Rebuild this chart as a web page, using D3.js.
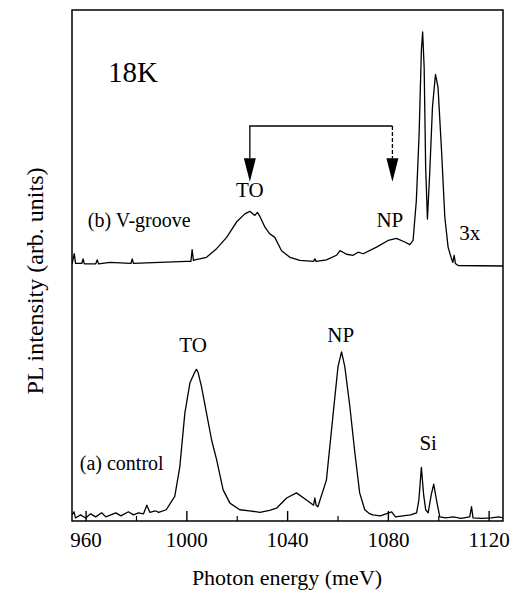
<!DOCTYPE html>
<html>
<head>
<meta charset="utf-8">
<script src="https://cdn.jsdelivr.net/npm/d3@7"></script>
<style>
  body { margin: 0; background: #fff; }
  text { font-family: "Liberation Serif", "Times New Roman", serif; fill: #000; }
</style>
</head>
<body>
<script>
// (a) control spectrum, photon energy (meV) / PL intensity (arb.)
var energyA = [954.6, 955.4, 956, 958, 960, 962, 964, 966.4, 968, 972, 974, 977, 979, 981, 983, 984.3, 985.5, 987.7, 989, 992,
  995.4, 997.4, 999.4, 1001.4, 1003.4, 1004, 1004.7, 1006, 1008, 1010, 1012, 1014.6, 1017.3, 1021.2, 1025, 1029.2, 1033,
  1035.8, 1039.8, 1043.7, 1047.7, 1050.5, 1051, 1051.5, 1052.2, 1055.6, 1058.3, 1060.2, 1061.6, 1062.9, 1064.9, 1066.9,
  1068.8, 1070.8, 1072.5, 1074, 1077, 1081.5, 1083, 1086, 1089, 1091.4, 1092.3, 1093.3, 1094.2, 1095, 1096, 1097.2,
  1098.2, 1099.3, 1100.6, 1103, 1106, 1109, 1112.5, 1113.2, 1113.8, 1117, 1121, 1124, 1125.7]
var intensityA = [1.2, 1.8, 0.6, 1.2, 0.6, 1.4, 0.8, 1.6, 0.8, 1.6, 1.0, 1.8, 1.2, 1.6, 1.4, 3.1, 1.7, 2.0, 1.7, 2.2,
  4.8, 10.6, 21.1, 27.0, 29.2, 29.7, 29.0, 26.3, 21.1, 15.9, 12.0, 6.1, 3.5, 2.2, 2.0, 1.7, 2.1,
  2.5, 4.5, 5.5, 4.1, 3.1, 4.5, 3.1, 2.8, 8.0, 21.1, 30.2, 33.1, 30.2, 22.4, 13.3,
  5.5, 2.2, 1.5, 1.2, 1.0, 1.8, 0.8, 1.0, 1.2, 1.6, 4.1, 10.5, 5.1, 2.2, 1.6, 5.1,
  7.2, 4.1, 0.8, 0.6, 0.8, 0.5, 0.8, 2.8, 0.6, 0.5, 0.6, 0.8, 0.6]

// (b) V-groove spectrum (shown 3x), relative to its own baseline
var energyB = [954.6, 955.5, 956, 958.5, 959, 959.5, 964, 964.6, 965.2, 969.6, 978, 978.5, 979, 989.5, 1000.1, 1001.8,
  1002.3, 1002.8, 1003.4, 1008, 1012, 1016, 1019.9, 1023.2, 1025.2, 1027.2, 1028.2, 1029.2, 1031.2, 1033.1, 1035.1,
  1037.8, 1041.1, 1045.1, 1050.5, 1051, 1051.5, 1055.6, 1059.6, 1061, 1063.6, 1066.2, 1068.2, 1070.2, 1075.5, 1080.1,
  1083.4, 1086.7, 1088.7, 1090, 1091.3, 1092.4, 1093.3, 1093.8, 1094.4, 1095, 1095.7, 1096.6, 1097.7, 1098.9, 1099.9,
  1101.3, 1102.6, 1103.9, 1105.2, 1105.8, 1106.3, 1106.8, 1107.9, 1125.7]
var intensityB = [0.2, 2.3, 0.4, 0.4, 1.3, 0.3, 0.3, 1.1, 0.3, 0.6, 0.4, 1.3, 0.4, 0.6, 0.8, 0.8,
  3.1, 1.0, 1.1, 1.6, 3.3, 5.5, 8.5, 10.1, 10.6, 9.8, 10.4, 9.6, 7.5, 6.2, 5.5,
  2.9, 1.6, 1.0, 0.8, 1.3, 0.8, 1.1, 2.0, 2.9, 2.2, 2.0, 2.6, 2.3, 3.6, 4.9,
  5.3, 4.6, 4.1, 4.9, 12.7, 25.8, 42.1, 45.7, 38.8, 19.2, 9.1, 18.0, 31.0, 37.4, 34.9,
  22.5, 9.5, 3.6, 1.4, 0.6, 2.0, 0.4, 0, -0.1]
var offsetB = 50

var majorTicks = [960, 1000, 1040, 1080, 1120]
var minorTicks = [980, 1020, 1060, 1100]

var W = 512, H = 590
var padL = 72, padR = 503, padT = 10, padB = 521

var svg = d3.select("body").append("svg")
  .attr("width", W).attr("height", H)

var x = d3.scaleLinear().domain([954.6, 1125.7]).range([padL, padR])
var y = d3.scaleLinear().domain([0, 100]).range([padB, padT])

svg.append("clipPath").attr("id", "plot")
  .append("rect").attr("x", padL).attr("y", padT)
  .attr("width", padR - padL).attr("height", padB - padT)

var line = d3.line().x(function(d) {return x(d[0])}).y(function(d) {return y(d[1])})

var g = svg.append("g").attr("clip-path", "url(#plot)")

g.append("path")
  .datum(d3.zip(energyA, intensityA))
  .attr("d", line)
  .attr("fill", "none").attr("stroke", "#000").attr("stroke-width", 1.3)
  .attr("stroke-linejoin", "round")

g.append("path")
  .datum(energyB.map(function(e, i) {return [e, intensityB[i] + offsetB]}))
  .attr("d", line)
  .attr("fill", "none").attr("stroke", "#000").attr("stroke-width", 1.3)
  .attr("stroke-linejoin", "round")

// axes: inward ticks, major labelled, minor unlabelled
svg.append("g")
  .attr("transform", "translate(0," + padB + ")")
  .call(d3.axisBottom(x).tickValues(majorTicks).tickSize(-10).tickPadding(11).tickFormat(d3.format("d")))
  .call(function(a) {
    a.select(".domain").remove()
    a.selectAll("line").attr("stroke-width", 1.4)
    a.selectAll("text").attr("font-size", 21).style("font-family", "Liberation Serif")
  })

svg.append("g")
  .attr("transform", "translate(0," + padB + ")")
  .call(d3.axisBottom(x).tickValues(minorTicks).tickSize(-5).tickFormat(""))
  .call(function(a) {
    a.select(".domain").remove()
    a.selectAll("line").attr("stroke-width", 1.2)
  })

svg.append("rect")
  .attr("x", padL).attr("y", padT)
  .attr("width", padR - padL).attr("height", padB - padT)
  .attr("fill", "none").attr("stroke", "#000").attr("stroke-width", 1.5)

// axis titles
svg.append("text")
  .attr("x", 287).attr("y", 585)
  .attr("text-anchor", "middle").attr("font-size", 22)
  .text("Photon energy (meV)")

svg.append("text")
  .attr("transform", "translate(43," + 281 + ") rotate(-90)")
  .attr("text-anchor", "middle").attr("font-size", 24)
  .text("PL intensity (arb. units)")

// annotations
function label(t, e, v, size, anchor) {
  svg.append("text")
    .attr("x", x(e)).attr("y", y(v))
    .attr("text-anchor", anchor || "middle")
    .attr("font-size", size)
    .text(t)
}

label("18K", 968.9, 85.9, 29, "start")
label("TO", 1025.2, 63.4, 21)
label("(b) V-groove", 960.9, 57.6, 20, "start")
label("NP", 1080.8, 57.6, 21)
label("3x", 1112.5, 55.0, 21)
label("TO", 1002.7, 33.1, 21)
label("NP", 1061.3, 35.1, 21)
label("Si", 1096, 13.9, 21)
label("(a) control", 957.7, 10.0, 20, "start")

// bracket arrow linking TO and NP of (b)
var arrowL = 1025.2, arrowR = 1081.8, arrowTop = 77.3, headTop = 71.0, tip = 66.4
svg.append("path")
  .attr("d", "M" + x(arrowL) + "," + y(headTop) + "V" + y(arrowTop) + "H" + x(arrowR))
  .attr("fill", "none").attr("stroke", "#000").attr("stroke-width", 1.3)
svg.append("path")
  .attr("d", "M" + x(arrowR) + "," + y(arrowTop) + "V" + y(headTop))
  .attr("fill", "none").attr("stroke", "#000").attr("stroke-width", 1.3)
  .attr("stroke-dasharray", "4,2")

svg.selectAll(".head")
  .data([arrowL, arrowR]).enter()
  .append("path")
  .attr("class", "head")
  .attr("d", function(d) {
    return "M" + (x(d) - 6) + "," + y(headTop) + "L" + (x(d) + 6) + "," + y(headTop) + "L" + x(d) + "," + y(tip) + "Z"
  })
  .attr("fill", "#000")
</script>
</body>
</html>
